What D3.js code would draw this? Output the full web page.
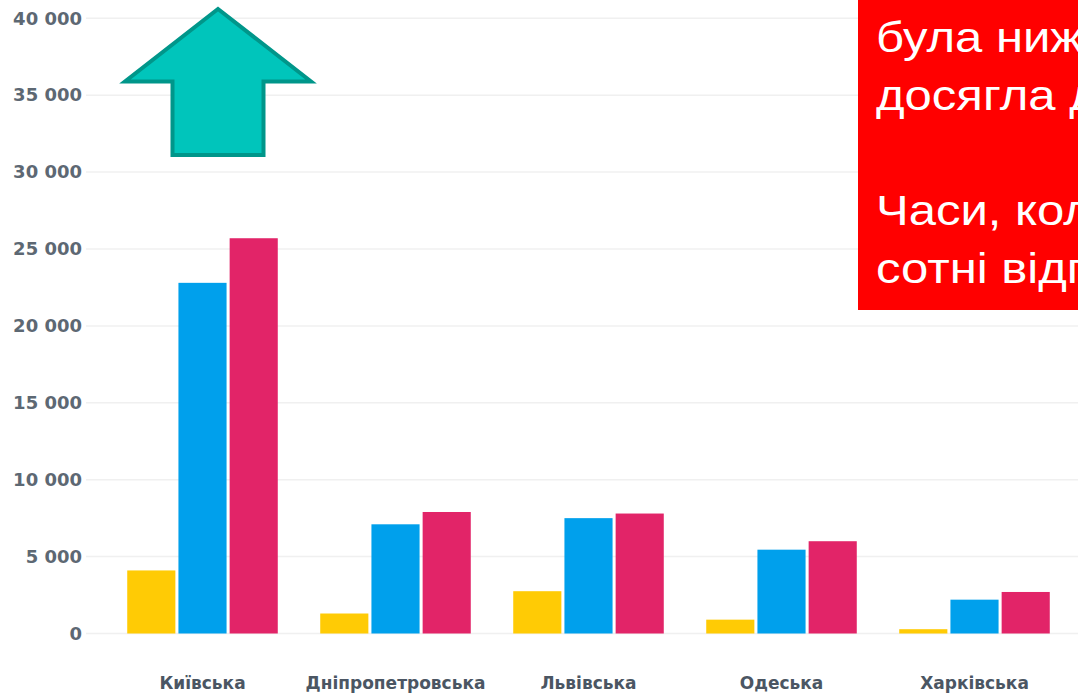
<!DOCTYPE html>
<html><head><meta charset="utf-8">
<script src="https://cdn.jsdelivr.net/npm/d3@7"></script>
<style>body{margin:0;background:#fff;overflow:hidden}</style>
</head><body><svg id="c" width="1078" height="694"></svg>
<script>
const categories = ["Київська","Дніпропетровська","Львівська","Одеська","Харківська"];
const seriesNames = ["s1","s2","s3"];
const series1 = [4100,1300,2750,900,280];
const series2 = [22800,7100,7500,5450,2200];
const series3 = [25700,7900,7800,6000,2700];
const seriesColors = ["#FFCB05","#00A0EC","#E22468"];
const yTicks = [0,5000,10000,15000,20000,25000,30000,35000,40000];
const noteLines = ["була ниж","досягла д","","Часи, кол","сотні відп"];

const svg = d3.select("#c");
const W = 1078, H = 694;

const y = d3.scaleLinear().domain([0,40000]).range([633.5,18.3]);
const x0 = d3.scaleBand().domain(categories).range([106,1071]).paddingInner(0.22).paddingOuter(0.11);
const x1 = d3.scaleBand().domain(seriesNames).range([0,x0.bandwidth()]).paddingInner(0.06);

const fmt = v => d3.format(",")(v).replace(/,/g," ");

// gridlines
svg.append("g").selectAll("line").data(yTicks).join("line")
  .attr("x1",86).attr("x2",W)
  .attr("y1",d=>y(d)).attr("y2",d=>y(d))
  .attr("stroke","#f0f0f0").attr("stroke-width",1.5);

// y axis labels
const yAxis = d3.axisLeft(y).tickValues(yTicks).tickFormat(fmt).tickSize(0).tickPadding(0);
const ga = svg.append("g").attr("transform","translate(82,0)").call(yAxis);
ga.select(".domain").remove();
ga.selectAll("text").attr("fill","#5d6873").attr("font-family","DejaVu Sans").attr("font-weight","bold").attr("font-size","18px");

// bars
const data = categories.map((c,i)=>({cat:c, vals:[series1[i],series2[i],series3[i]]}));
const groups = svg.append("g").selectAll("g").data(data).join("g")
  .attr("transform",d=>`translate(${x0(d.cat)},0)`);
groups.selectAll("rect").data(d=>d.vals.map((v,j)=>({k:seriesNames[j],v,j}))).join("rect")
  .attr("x",d=>x1(d.k)).attr("width",x1.bandwidth())
  .attr("y",d=>y(d.v)).attr("height",d=>y(0)-y(d.v))
  .attr("fill",d=>seriesColors[d.j]);

// x axis labels
const xAxis = d3.axisBottom(x0).tickSize(0).tickPadding(0);
const gx = svg.append("g").attr("transform","translate(0,677)").call(xAxis);
gx.select(".domain").remove();
gx.selectAll("text").attr("fill","#4b5663").attr("font-family","DejaVu Sans").attr("font-weight","bold").attr("font-size","17px");

// arrow annotation
svg.append("polygon")
  .attr("points","218,9 311,81.5 263.5,81.5 263.5,155 172.5,155 172.5,81.5 125,81.5")
  .attr("fill","#00C5BB").attr("stroke","#00968A").attr("stroke-width",4).attr("stroke-linejoin","miter");

// red note box
svg.append("rect").attr("x",858).attr("y",0).attr("width",W-858).attr("height",310).attr("fill","#FF0000");
svg.append("g").attr("transform","translate(876,0) scale(1.14,1)")
  .selectAll("text").data(noteLines).join("text")
  .attr("x",0).attr("y",(d,i)=>52+i*57.8)
  .attr("fill","#fff").attr("font-family","Liberation Sans, Arial").attr("font-size","43px")
  .text(d=>d);
</script></body></html>
